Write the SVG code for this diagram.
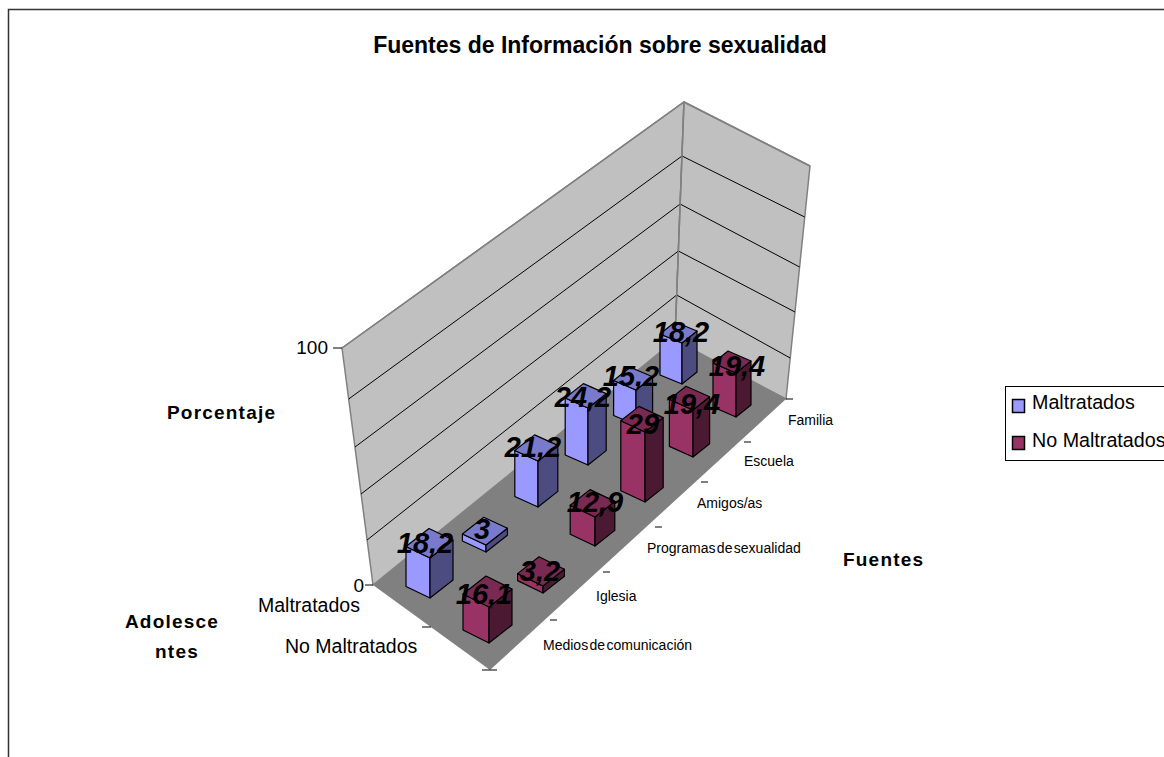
<svg xmlns="http://www.w3.org/2000/svg" width="1164" height="757" viewBox="0 0 1164 757">
<style>
text{font-family:"Liberation Sans",Arial,sans-serif;fill:#000}
.wall{fill:#C0C0C0;stroke:#808080;stroke-width:1.5;stroke-linejoin:round}
.floor{fill:#808080;stroke:none}
.grid{stroke:#000;stroke-width:1;fill:none}
.tick{stroke:#000;stroke-width:1;fill:none}
.bar path{stroke:#000;stroke-width:1.2;stroke-linejoin:round}
.mf{fill:#9999FF}.mt{fill:#7A7ACC}.ms{fill:#4C4C80}
.nf{fill:#993366}.nt{fill:#7A2952}.ns{fill:#4C1933}
.val{font-size:29px;font-weight:bold;font-style:italic;text-anchor:middle}
.cat{font-size:14px;word-spacing:-2.5px}
.ser{font-size:19.5px}
.axt{font-size:19px;font-weight:bold;letter-spacing:1.2px}
.leg{font-size:19.7px}
</style>
<rect x="0" y="0" width="1164" height="757" fill="#fff"/>
<path d="M8.5 757 V9.5 H1164" fill="none" stroke="#333" stroke-width="1.5"/>
<text x="600" y="53" font-size="23" font-weight="bold" text-anchor="middle">Fuentes de Información sobre sexualidad</text>

<g id="walls">
<polygon class="floor" points="373,585 675,340 786,399 490,670"/>
<polygon class="wall" points="342,348 684,102 675,340 373,585"/>
<polygon class="wall" points="684,102 810,166 786,399 675,340"/>
<path class="grid" d="M348.7,399 L682,156 L804.7,217 M355,447 L680.1,204 L799.6,267 M361,494 L678.4,251 L795,312 M367.1,540 L676.7,295 L790.2,358"/>
<path d="M342,348 L684,102 L810,166 M684,102 L675,340" fill="none" stroke="#808080" stroke-width="1.5"/>
</g>

<g id="axes">
<path class="tick" d="M333,348 H342 M365,585 H373 M422,627 H431 M482,670 H497 M786,399 H793 M744,442 H751 M701,482 H708 M655,527 H662 M603,572 H610 M550,620 H557"/>
<text x="328" y="354" font-size="19" text-anchor="end">100</text>
<text x="364" y="592" font-size="19" text-anchor="end">0</text>
<text class="cat" x="788" y="425">Familia</text>
<text class="cat" x="744" y="466">Escuela</text>
<text class="cat" x="697" y="508">Amigos/as</text>
<text class="cat" x="647" y="553">Programas de sexualidad</text>
<text class="cat" x="596" y="601">Iglesia</text>
<text class="cat" x="543" y="650">Medios de comunicación</text>
<text class="ser" x="258" y="612">Maltratados</text>
<text class="ser" x="285" y="653">No Maltratados</text>
<text class="axt" x="167" y="419">Porcentaje</text>
<text class="axt" x="843" y="566">Fuentes</text>
<text class="axt" x="172" y="628" text-anchor="middle">Adolesce</text>
<text class="axt" x="177" y="658" text-anchor="middle">ntes</text>
</g>

<g id="bars" class="bar">
<g id="m5"><path class="mf" d="M682,384 l-22,-9 v-41 l22,9 z"/><path class="ms" d="M682,384 l15,-12 v-41 l-15,12 z"/><path class="mt" d="M682,343 l-22,-9 l15,-12 l22,9 z"/></g>
<g id="n5"><path class="nf" d="M736,417 l-23,-10 v-44 l23,10 z"/><path class="ns" d="M736,417 l15,-12 v-44 l-15,12 z"/><path class="nt" d="M736,373 l-23,-10 l15,-12 l23,10 z"/></g>
<g id="m4"><path class="mf" d="M636,425 l-22.4,-9.5 v-35 l22.4,9.5 z"/><path class="ms" d="M636,425 l16.6,-13.2 v-35 l-16.6,13.2 z"/><path class="mt" d="M636,390 l-22.4,-9.5 l16.6,-13.2 l22.4,9.5 z"/></g>
<g id="n4"><path class="nf" d="M693,457 l-23.6,-10.6 v-47 l23.6,10.6 z"/><path class="ns" d="M693,457 l16.6,-13.2 v-47 l-16.6,13.2 z"/><path class="nt" d="M693,410 l-23.6,-10.6 l16.6,-13.2 l23.6,10.6 z"/></g>
<g id="m3"><path class="mf" d="M588,465 l-22.8,-10 v-57 l22.8,10 z"/><path class="ms" d="M588,465 l18.2,-14.4 v-57 l-18.2,14.4 z"/><path class="mt" d="M588,408 l-22.8,-10 l18.2,-14.4 l22.8,10 z"/></g>
<g id="n3"><path class="nf" d="M645,502 l-24.2,-11.2 v-70 l24.2,11.2 z"/><path class="ns" d="M645,502 l18.2,-14.4 v-70 l-18.2,14.4 z"/><path class="nt" d="M645,432 l-24.2,-11.2 l18.2,-14.4 l24.2,11.2 z"/></g>
<g id="m2"><path class="mf" d="M538,507 l-23.2,-10.5 v-46 l23.2,10.5 z"/><path class="ms" d="M538,507 l19.8,-15.6 v-46 l-19.8,15.6 z"/><path class="mt" d="M538,461 l-23.2,-10.5 l19.8,-15.6 l23.2,10.5 z"/></g>
<g id="n2"><path class="nf" d="M595,546 l-24.8,-11.8 v-29 l24.8,11.8 z"/><path class="ns" d="M595,546 l19.8,-15.6 v-29 l-19.8,15.6 z"/><path class="nt" d="M595,517 l-24.8,-11.8 l19.8,-15.6 l24.8,11.8 z"/></g>
<g id="m1"><path class="mf" d="M486,552 l-23.6,-11 v-7 l23.6,11 z"/><path class="ms" d="M486,552 l21.4,-16.8 v-7 l-21.4,16.8 z"/><path class="mt" d="M486,545 l-23.6,-11 l21.4,-16.8 l23.6,11 z"/></g>
<g id="n1"><path class="nf" d="M543,593 l-25.4,-12.4 v-7 l25.4,12.4 z"/><path class="ns" d="M543,593 l21.4,-16.8 v-7 l-21.4,16.8 z"/><path class="nt" d="M543,586 l-25.4,-12.4 l21.4,-16.8 l25.4,12.4 z"/></g>
<g id="m0"><path class="mf" d="M430,598 l-24,-11.5 v-40 l24,11.5 z"/><path class="ms" d="M430,598 l23,-18 v-40 l-23,18 z"/><path class="mt" d="M430,558 l-24,-11.5 l23,-18 l24,11.5 z"/></g>
<g id="n0"><path class="nf" d="M489,643 l-26,-13 v-36 l26,13 z"/><path class="ns" d="M489,643 l23,-18 v-36 l-23,18 z"/><path class="nt" d="M489,607 l-26,-13 l23,-18 l26,13 z"/></g>
</g>

<g id="labels">
<text class="val" x="681" y="342">18,2</text>
<text class="val" x="737" y="376">19,4</text>
<text class="val" x="631" y="386">15,2</text>
<text class="val" x="692" y="414">19,4</text>
<text class="val" x="583" y="407">24,2</text>
<text class="val" x="643" y="434">29</text>
<text class="val" x="533" y="457">21,2</text>
<text class="val" x="595" y="512">12,9</text>
<text class="val" x="482" y="539">3</text>
<text class="val" x="540" y="581">3,2</text>
<text class="val" x="425" y="553">18,2</text>
<text class="val" x="484" y="604">16,1</text>
</g>

<g id="legend">
<rect x="1005.5" y="386.5" width="170" height="74" fill="#fff" stroke="#000" stroke-width="1"/>
<rect x="1012.5" y="399.5" width="12" height="13" fill="#9999FF" stroke="#000" stroke-width="1.5"/>
<text class="leg" x="1032" y="409">Maltratados</text>
<rect x="1012.5" y="436.5" width="12" height="13" fill="#993366" stroke="#000" stroke-width="1.5"/>
<text class="leg" x="1032" y="447">No Maltratados</text>
</g>
</svg>
